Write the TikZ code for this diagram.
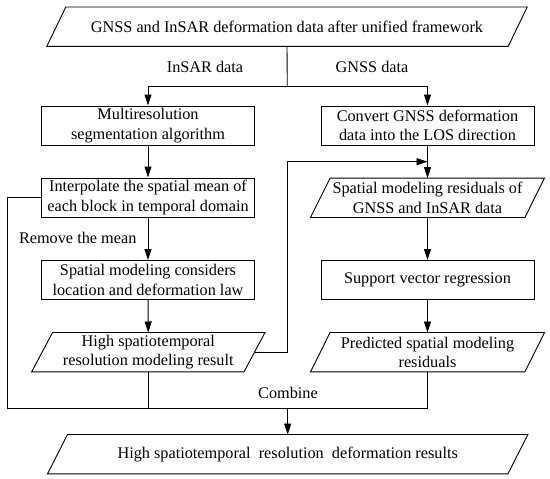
\documentclass[tikz,border=0pt]{standalone}
\usepackage{fontspec}
\setmainfont{Liberation Serif}
\usetikzlibrary{arrows.meta}
\tikzset{
  txt/.style={font=\fontsize{16.25}{19.5}\selectfont},
  box/.style={txt, draw, line width=0.9pt, minimum width=213pt, minimum height=39pt, inner sep=0pt, align=center},
  pbox/.style={txt, minimum width=#1, minimum height=39pt, inner sep=0pt, align=center},
  ln/.style={line width=0.9pt},
  arr/.style={ln, -{Triangle[length=11pt,width=7pt]}},
  lbl/.style={txt, inner sep=0pt}
}
\newcommand\paraout[2]{\draw[ln] ([xshift=#2]#1.north west) -- ([xshift=#2]#1.north east) -- ([xshift=-#2]#1.south east) -- ([xshift=-#2]#1.south west) -- cycle;}
\begin{document}
\begin{tikzpicture}[x=1pt,y=-1pt]
\useasboundingbox (0,0) rectangle (550,479);
% nodes
\node[pbox=461pt] (top) at (287,26.7) {GNSS and InSAR deformation data after unified framework};
\node[box] (multi) at (148,125.5) {Multiresolution\\segmentation algorithm};
\node[box] (convert) at (427.5,125.5) {Convert GNSS deformation\\data into the LOS direction};
\node[box] (interp) at (148,197.5) {Interpolate the spatial mean of\\each block in temporal domain};
\node[pbox=214pt] (resid) at (427.5,197.8) {Spatial modeling residuals of\\GNSS and InSAR data};
\node[box] (spatial) at (148,280) {Spatial modeling considers\\location and deformation law};
\node[box] (svr) at (427.5,280) {Support vector regression};
\node[pbox=212pt] (hsr) at (148.3,352.2) {High spatiotemporal\\resolution modeling result};
\node[pbox=214pt] (pred) at (427.5,352.2) {Predicted spatial modeling\\residuals};
\node[pbox=460pt] (final) at (287.7,454.2) {High spatiotemporal\ \ resolution\ \ deformation results};
\paraout{top}{9.5pt}
\paraout{resid}{9.8pt}
\paraout{hsr}{10.5pt}
\paraout{pred}{9.8pt}
\paraout{final}{10pt}
% labels
\node[lbl] (linsar) at (205,67) {InSAR data};
\node[lbl] (lgnss) at (372,67) {GNSS data};
\node[lbl] (lremove) at (77.7,238.3) {Remove the mean};
\node[lbl] (lcombine) at (288,393) {Combine};
% coordinates
\coordinate (split) at (287.3,86.5);
\coordinate (fb1) at (287.7,352.2);
\coordinate (fb2) at (287.7,161.7);
\coordinate (fb3) at (427.5,161.7);
\coordinate (lf1) at (7.3,197.5);
\coordinate (lf2) at (7.3,408.3);
\coordinate (join) at (287.7,408.3);
\coordinate (jr) at (427.5,408.3);
\coordinate (jl) at (148.3,408.3);
% connectors
\draw[ln] (top.south) -- (split);
\draw[arr] (split) -| (multi.north);
\draw[arr] (split) -| (convert.north);
\draw[arr] (multi) -- (interp);
\draw[arr] (interp) -- (spatial);
\draw[arr] (spatial) -- (hsr);
\draw[arr] (convert) -- (resid);
\draw[arr] (resid) -- (svr);
\draw[arr] (svr) -- (pred);
\draw[arr] (hsr.east) -- (fb1) -- (fb2) -- (fb3);
\draw[ln] (interp.west) -- (lf1) -- (lf2) -- (jr);
\draw[ln] (hsr.south) -- (jl);
\draw[ln] (pred.south) -- (jr);
\draw[arr] (join) -- (final.north);
\end{tikzpicture}
\end{document}
